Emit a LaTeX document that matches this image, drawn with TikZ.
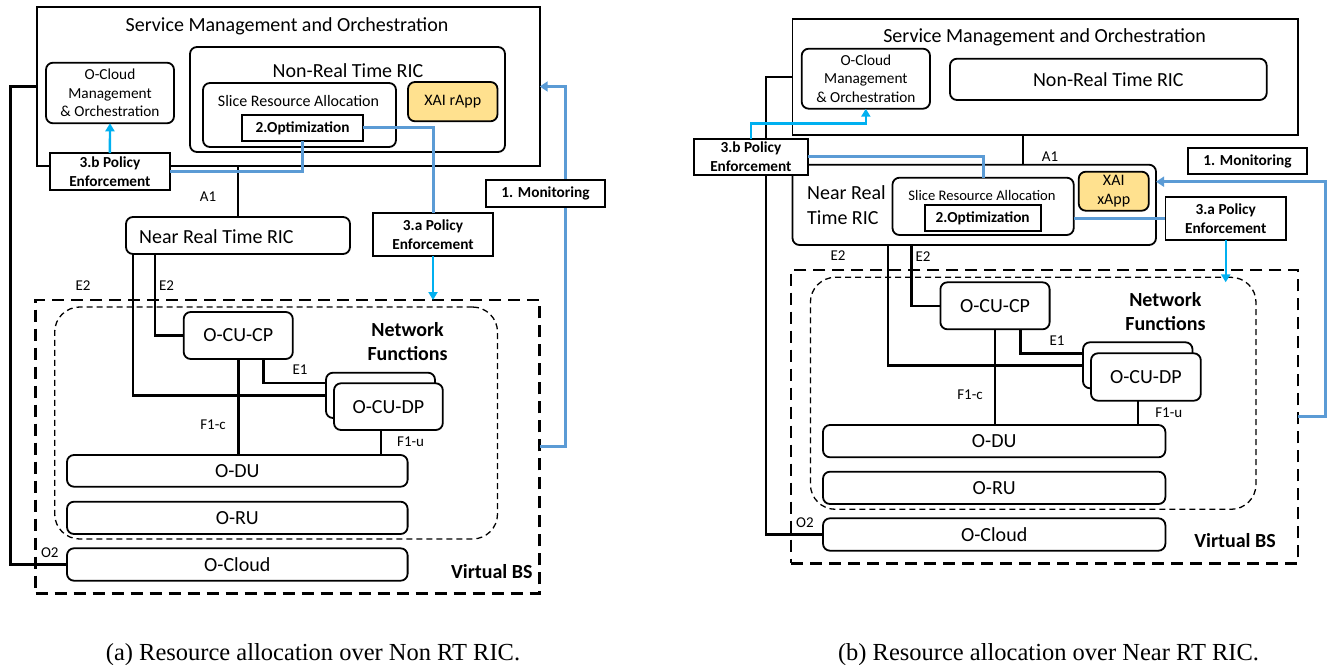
\documentclass[tikz,border=0pt]{standalone}
\usepackage{fontspec}
\setmainfont{Carlito}
\newfontfamily\capfont{Liberation Serif}
\usetikzlibrary{arrows.meta}
\definecolor{steel}{HTML}{5B9BD5}
\definecolor{sky}{HTML}{00B0F0}
\definecolor{xaiy}{HTML}{FFE18F}
\begin{document}
\begin{tikzpicture}[x=1pt,y=-1pt,
  rbox/.style={draw, line width=1.8pt, rounded corners=7pt, fill=white, inner sep=0pt, outer sep=0pt},
  sbox/.style={draw, line width=1.8pt, fill=white, inner sep=0pt, outer sep=0pt},
  vbs/.style={draw, line width=2.8pt, dash pattern=on 12pt off 7pt, inner sep=0pt, outer sep=0pt},
  nfs/.style={draw, line width=1.3pt, dash pattern=on 6pt off 4pt, rounded corners=25pt, inner sep=0pt, outer sep=0pt},
  conn/.style={line width=2.6pt},
  bline/.style={draw=steel, line width=3pt},
  barrow/.style={draw=sky, line width=2.4pt, -{Triangle[length=8pt,width=9pt]}},
  marrow/.style={draw=steel, line width=3pt, -{Triangle[length=8pt,width=10pt]}},
  f20/.style={font=\fontsize{20}{24.5}\selectfont},
  f16/.style={font=\fontsize{16}{19}\selectfont},
  f15/.style={font=\fontsize{15.3}{18.5}\selectfont},
  f146/.style={font=\fontsize{14.6}{18}\selectfont},
  b15/.style={font=\fontsize{15.3}{18.4}\selectfont\bfseries},
  b20/.style={font=\fontsize{20}{24}\selectfont\bfseries},
  lbl/.style={font=\fontsize{15}{18}\selectfont, inner sep=0pt},
  capf/.style={font=\capfont\fontsize{24.5}{29}\selectfont, inner sep=0pt}
]
\useasboundingbox (0,0) rectangle (1330,664);

% ================= LEFT (a) =================
\node[sbox, minimum width=503pt, minimum height=158.4pt] (smoL) at (288.2,86.5) {};
\node[f20] (smoLt) at (287,26) {Service Management and Orchestration};
\node[rbox, f15, align=center, minimum width=128pt, minimum height=60.6pt] (ocmL) at (110,93) {O-Cloud\\Management\\\& Orchestration};
\node[rbox, minimum width=315pt, minimum height=105pt] (nrtL) at (347.5,99.5) {};
\node[f20] (nrtLt) at (348,71) {Non-Real Time RIC};
\node[rbox, minimum width=193pt, minimum height=64pt] (sraL) at (299.5,115) {};
\node[f16] (sraLt) at (298.5,101) {Slice Resource Allocation};
\node[sbox, b15, minimum width=121pt, minimum height=26.3pt] (optL) at (302.5,127.85) {2.Optimization};
\node[rbox, fill=xaiy, f16, minimum width=89.5pt, minimum height=39.3pt] (xaiL) at (452.75,101.65) {XAI rApp};
\node[rbox, minimum width=224pt, minimum height=37pt] (nearL) at (238,235.5) {};
\node[f20, anchor=west, inner sep=0pt] (nearLt) at (139,237) {Near Real Time RIC};

\node[vbs, minimum width=504pt, minimum height=293.3pt] (vbsL) at (287.6,446.65) {};
\node[nfs, minimum width=442.8pt, minimum height=232pt] (nfL) at (276.1,423) {};
\node[b20, align=center] (nfLt) at (407.6,342) {Network\\Functions};
\node[b20] (vbsLt) at (491.8,571.7) {Virtual BS};

\node[rbox, f20, minimum width=109.1pt, minimum height=47pt] (cucpL) at (238.25,335.5) {O-CU-CP};
\node[rbox, minimum width=109pt, minimum height=45.3pt] (cudpbL) at (380.5,395.35) {};
\node[rbox, f20, minimum width=108.8pt, minimum height=46.7pt] (cudpL) at (388.4,406.65) {O-CU-DP};
\node[rbox, f20, minimum width=340.6pt, minimum height=31.7pt] (oduL) at (237.3,470.85) {O-DU};
\node[rbox, f20, minimum width=340.6pt, minimum height=32.3pt] (oruL) at (237.3,517.85) {O-RU};
\node[rbox, f20, minimum width=340.6pt, minimum height=32.4pt] (ocL) at (237.3,564.5) {O-Cloud};

% black connectors
\coordinate (lxL) at (10.7,300);
\draw[conn] (smoL.west) -| (lxL) |- (ocL.west);
\draw[conn] (nearL.north) -- (nearL.north |- smoL.south);
\draw[conn] ([xshift=6.8pt]nearL.south west) |- (cudpbL.west);
\draw[conn] ([xshift=29pt]nearL.south west) |- (cucpL.west);
\draw[conn] ([xshift=25pt]cucpL.south) |- ([yshift=-10.3pt]cudpbL.north west);
\draw[conn] (cucpL.south) -- (cucpL.south |- oduL.north);
\draw[conn] ([xshift=-7.6pt]cudpL.south) -- ([xshift=-7.6pt]cudpL.south |- oduL.north);

% monitoring loop
\coordinate (mcL) at (565.6,300);
\draw[marrow] (vbsL.east) -| (mcL) |- (smoL.east);

% policy / monitoring boxes
\node[sbox, b15, align=center, minimum width=120.2pt, minimum height=37pt] (pbL) at (109.9,171.5) {3.b Policy\\Enforcement};
\node[sbox, b15, align=center, minimum width=120pt, minimum height=43pt] (paL) at (433,234.5) {3.a Policy\\Enforcement};
\node[sbox, b15, minimum width=119pt, minimum height=26.7pt] (monL) at (545.5,193.35) {1. Monitoring};

\draw[bline] (optL.south) |- (pbL.east);
\draw[bline] (optL.east) -| (paL.north);
\draw[barrow] (paL.south) -- (paL.south |- vbsL.north);
\draw[barrow] (pbL.north) -- (ocmL.south);

% labels
\node[lbl] (a1L) at (208,197) {A1};
\node[lbl] (e2aL) at (83,286) {E2};
\node[lbl] (e2bL) at (166.5,286) {E2};
\node[lbl] (e1L) at (300,370) {E1};
\node[lbl] (f1cL) at (213,425) {F1-c};
\node[lbl] (f1uL) at (410.6,442) {F1-u};
\node[lbl] (o2L) at (49.8,552.7) {O2};

% ================= RIGHT (b) =================
\node[sbox, minimum width=505.5pt, minimum height=116pt] (smoR) at (1045.25,77) {};
\node[f20] (smoRt) at (1044.6,37.7) {Service Management and Orchestration};
\node[rbox, f15, align=center, minimum width=128.3pt, minimum height=60pt] (ocmR) at (865.85,78.7) {O-Cloud\\Management\\\& Orchestration};
\node[rbox, f20, minimum width=316.7pt, minimum height=41.3pt] (nrtR) at (1108.35,79.35) {Non-Real Time RIC};
\node[rbox, minimum width=363.5pt, minimum height=80.3pt] (nearR) at (974.25,204.85) {};
\node[f20, anchor=west, align=left, inner sep=0pt] (nearRt) at (807,205.3) {Near Real\\Time RIC};
\node[rbox, minimum width=181.25pt, minimum height=57.3pt] (sraR) at (983.1,206.35) {};
\node[f146] (sraRt) at (982,195.7) {Slice Resource Allocation};
\node[sbox, b15, minimum width=116.2pt, minimum height=26pt] (optR) at (982.7,218) {2.Optimization};
\node[rbox, fill=xaiy, f16, align=center, minimum width=70pt, minimum height=39pt] (xaiR) at (1113.75,191.2) {XAI\\xApp};

\node[vbs, minimum width=507pt, minimum height=293.3pt] (vbsR) at (1044.5,416.65) {};
\node[nfs, minimum width=445.6pt, minimum height=232pt] (nfR) at (1033.2,393.3) {};
\node[b20, align=center] (nfRt) at (1165.4,312) {Network\\Functions};
\node[b20] (vbsRt) at (1235,540.7) {Virtual BS};

\node[rbox, f20, minimum width=109.2pt, minimum height=47pt] (cucpR) at (995,305.8) {O-CU-CP};
\node[rbox, minimum width=109.5pt, minimum height=46pt] (cudpbR) at (1137.75,365.3) {};
\node[rbox, f20, minimum width=109.8pt, minimum height=47.4pt] (cudpR) at (1145.9,377) {O-CU-DP};
\node[rbox, f20, minimum width=342.4pt, minimum height=32.3pt] (oduR) at (994.2,441.15) {O-DU};
\node[rbox, f20, minimum width=342.4pt, minimum height=32.3pt] (oruR) at (994.2,487.85) {O-RU};
\node[rbox, f20, minimum width=342.4pt, minimum height=32.4pt] (ocR) at (994.2,534.5) {O-Cloud};

\coordinate (lxR) at (766,300);
\draw[conn] (smoR.west) -| (lxR) |- (ocR.west);
\draw[conn] ([xshift=48.75pt]nearR.north) -- ([xshift=48.75pt]nearR.north |- smoR.south);
\draw[conn] ([xshift=95.5pt]nearR.south west) |- (cudpbR.west);
\draw[conn] ([xshift=118.75pt]nearR.south west) |- (cucpR.west);
\draw[conn] ([xshift=25.4pt]cucpR.south) |- ([yshift=-11pt]cudpbR.north west);
\draw[conn] (cucpR.south) -- (cucpR.south |- oduR.north);
\draw[conn] ([xshift=-7.9pt]cudpR.south) -- ([xshift=-7.9pt]cudpR.south |- oduR.north);

\coordinate (mcR) at (1325,300);
\draw[marrow] (vbsR.east) -| (mcR) |- ([yshift=23.15pt]nearR.east);

\node[sbox, b15, align=center, minimum width=114.25pt, minimum height=36.3pt] (pbR) at (750.9,156.85) {3.b Policy\\Enforcement};
\node[sbox, b15, align=center, minimum width=120.6pt, minimum height=42.7pt] (paR) at (1225.7,218.65) {3.a Policy\\Enforcement};
\node[sbox, b15, minimum width=119pt, minimum height=26.6pt] (monR) at (1247.5,161) {1. Monitoring};

\draw[bline] (pbR.east) -| (sraR.north);
\draw[bline] (sraR.east |- paR.west) -- (paR.west);
\draw[barrow] (paR.south) -- ([yshift=-5pt]paR.south |- nfR.north);
\draw[barrow] (pbR.north) |- ([yshift=-14.6pt]ocmR.south) -- (ocmR.south);

\node[lbl] (a1R) at (1050,156.7) {A1};
\node[lbl] (e2aR) at (838,256) {E2};
\node[lbl] (e2bR) at (923,257) {E2};
\node[lbl] (e1R) at (1057,340.7) {E1};
\node[lbl] (f1cR) at (970,395) {F1-c};
\node[lbl] (f1uR) at (1168.75,413) {F1-u};
\node[lbl] (o2R) at (805,522.3) {O2};

% captions
\node[capf, anchor=base] (capA) at (313,660) {(a) Resource allocation over Non RT RIC.};
\node[capf, anchor=base] (capB) at (1048.5,660) {(b) Resource allocation over Near RT RIC.};
\end{tikzpicture}
\end{document}
